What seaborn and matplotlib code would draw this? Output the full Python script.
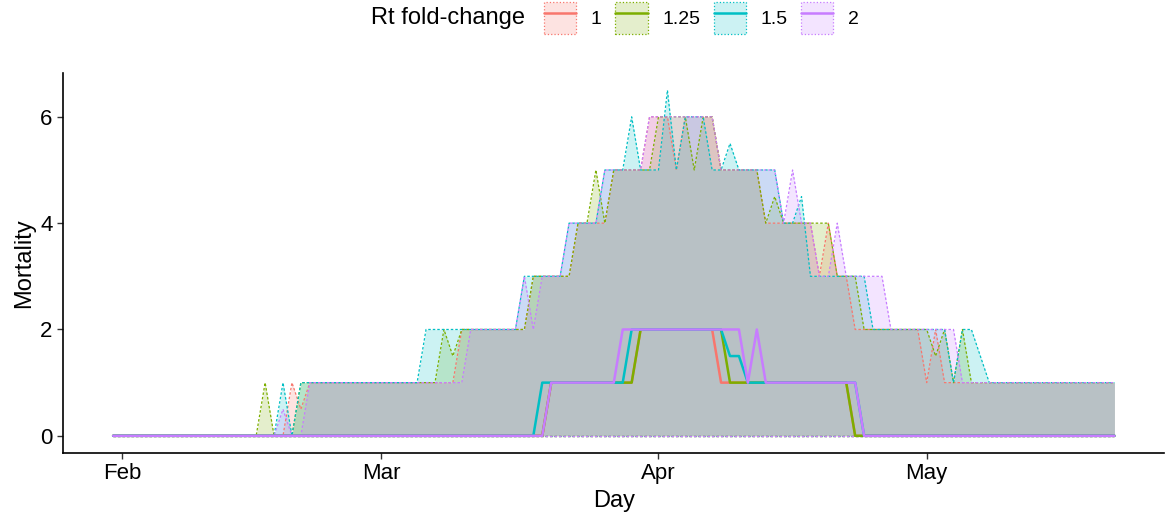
import numpy as np
import pandas as pd
import matplotlib
matplotlib.use("Agg")
import matplotlib.pyplot as plt
import matplotlib.dates as mdates
from matplotlib.colors import to_rgba
from matplotlib.patches import Patch
from matplotlib.lines import Line2D
import seaborn as sns

# daily series, 31 Jan - 22 May 2020
days = pd.date_range("2020-01-31", "2020-05-22", freq="D")
rt_levels = ["1", "1.25", "1.5", "2"]
colors = ["#F8766D", "#7CAE00", "#00BFC4", "#C77CFF"]

# upper bound of the ribbon (lower bound is 0 for every group)
upper_1 = [0, 0, 0, 0, 0, 0, 0, 0, 0, 0,
           0, 0, 0, 0, 0, 0, 0, 0, 0, 0,
           1, 0.5, 1, 1, 1, 1, 1, 1, 1, 1,
           1, 1, 1, 1, 1, 1, 1, 1, 1, 2,
           2, 2, 2, 2, 2, 2, 2, 3, 3, 3,
           3, 3, 4, 4, 4, 4, 5, 5, 5, 5,
           6, 6, 6, 5, 6, 6, 6, 6, 5, 5,
           5, 5, 5, 4, 4, 4, 4, 4, 4, 3,
           4, 3, 3, 2, 2, 2, 2, 2, 2, 2,
           2, 1, 2, 1, 1, 1, 1, 1, 1, 1,
           1, 1, 1, 1, 1, 1, 1, 1, 1, 1,
           1, 1, 1]
upper_125 = [0, 0, 0, 0, 0, 0, 0, 0, 0, 0,
             0, 0, 0, 0, 0, 0, 0, 1, 0, 0,
             0, 1, 1, 1, 1, 1, 1, 1, 1, 1,
             1, 1, 1, 1, 1, 1, 1, 2, 1.5, 2,
             2, 2, 2, 2, 2, 2, 2, 3, 3, 3,
             3, 3, 4, 4, 5, 4, 5, 5, 5, 5,
             5, 6, 6, 6, 6, 5, 6, 6, 5, 5,
             5, 5, 5, 4, 4.5, 4, 4, 4, 4, 4,
             4, 3, 3, 3, 2, 2, 2, 2, 2, 2,
             2, 2, 1.5, 2, 1, 2, 1, 1, 1, 1,
             1, 1, 1, 1, 1, 1, 1, 1, 1, 1,
             1, 1, 1]
upper_15 = [0, 0, 0, 0, 0, 0, 0, 0, 0, 0,
            0, 0, 0, 0, 0, 0, 0, 0, 0, 1,
            0, 1, 1, 1, 1, 1, 1, 1, 1, 1,
            1, 1, 1, 1, 1, 2, 2, 2, 2, 2,
            2, 2, 2, 2, 2, 2, 3, 3, 3, 3,
            3, 4, 4, 4, 4, 5, 5, 5, 6, 5,
            5, 5, 6.5, 5, 6, 6, 6, 5, 5, 5.5,
            5, 5, 5, 5, 5, 4, 4, 4.5, 3, 3,
            3, 3, 3, 3, 3, 2, 2, 2, 2, 2,
            2, 2, 2, 2, 1, 2, 2, 1.5, 1, 1,
            1, 1, 1, 1, 1, 1, 1, 1, 1, 1,
            1, 1, 1]
upper_2 = [0, 0, 0, 0, 0, 0, 0, 0, 0, 0,
           0, 0, 0, 0, 0, 0, 0, 0, 0, 0.5,
           0, 0, 1, 1, 1, 1, 1, 1, 1, 1,
           1, 1, 1, 1, 1, 1, 1, 1, 1, 1,
           2, 2, 2, 2, 2, 2, 3, 2, 3, 3,
           3, 4, 4, 4, 4, 5, 5, 5, 5, 5,
           6, 6, 6, 6, 6, 6, 6, 6, 5, 5,
           5, 5, 5, 5, 5, 4, 5, 4, 4, 3,
           3, 4, 3, 3, 3, 3, 3, 2, 2, 2,
           2, 2, 2, 2, 2, 1, 1, 1, 1, 1,
           1, 1, 1, 1, 1, 1, 1, 1, 1, 1,
           1, 1, 1]

# median line
median_1 = [0, 0, 0, 0, 0, 0, 0, 0, 0, 0,
            0, 0, 0, 0, 0, 0, 0, 0, 0, 0,
            0, 0, 0, 0, 0, 0, 0, 0, 0, 0,
            0, 0, 0, 0, 0, 0, 0, 0, 0, 0,
            0, 0, 0, 0, 0, 0, 0, 0, 0, 1,
            1, 1, 1, 1, 1, 1, 1, 1, 1, 2,
            2, 2, 2, 2, 2, 2, 2, 2, 1, 1,
            1, 1, 1, 1, 1, 1, 1, 1, 1, 1,
            1, 1, 1, 0, 0, 0, 0, 0, 0, 0,
            0, 0, 0, 0, 0, 0, 0, 0, 0, 0,
            0, 0, 0, 0, 0, 0, 0, 0, 0, 0,
            0, 0, 0]
median_125 = [0, 0, 0, 0, 0, 0, 0, 0, 0, 0,
              0, 0, 0, 0, 0, 0, 0, 0, 0, 0,
              0, 0, 0, 0, 0, 0, 0, 0, 0, 0,
              0, 0, 0, 0, 0, 0, 0, 0, 0, 0,
              0, 0, 0, 0, 0, 0, 0, 0, 0, 1,
              1, 1, 1, 1, 1, 1, 1, 1, 1, 2,
              2, 2, 2, 2, 2, 2, 2, 2, 2, 1,
              1, 1, 1, 1, 1, 1, 1, 1, 1, 1,
              1, 1, 1, 0, 0, 0, 0, 0, 0, 0,
              0, 0, 0, 0, 0, 0, 0, 0, 0, 0,
              0, 0, 0, 0, 0, 0, 0, 0, 0, 0,
              0, 0, 0]
median_15 = [0, 0, 0, 0, 0, 0, 0, 0, 0, 0,
             0, 0, 0, 0, 0, 0, 0, 0, 0, 0,
             0, 0, 0, 0, 0, 0, 0, 0, 0, 0,
             0, 0, 0, 0, 0, 0, 0, 0, 0, 0,
             0, 0, 0, 0, 0, 0, 0, 0, 1, 1,
             1, 1, 1, 1, 1, 1, 1, 1, 2, 2,
             2, 2, 2, 2, 2, 2, 2, 2, 2, 1.5,
             1.5, 1, 1, 1, 1, 1, 1, 1, 1, 1,
             1, 1, 1, 1, 0, 0, 0, 0, 0, 0,
             0, 0, 0, 0, 0, 0, 0, 0, 0, 0,
             0, 0, 0, 0, 0, 0, 0, 0, 0, 0,
             0, 0, 0]
median_2 = [0, 0, 0, 0, 0, 0, 0, 0, 0, 0,
            0, 0, 0, 0, 0, 0, 0, 0, 0, 0,
            0, 0, 0, 0, 0, 0, 0, 0, 0, 0,
            0, 0, 0, 0, 0, 0, 0, 0, 0, 0,
            0, 0, 0, 0, 0, 0, 0, 0, 0, 1,
            1, 1, 1, 1, 1, 1, 1, 2, 2, 2,
            2, 2, 2, 2, 2, 2, 2, 2, 2, 2,
            2, 1, 2, 1, 1, 1, 1, 1, 1, 1,
            1, 1, 1, 1, 0, 0, 0, 0, 0, 0,
            0, 0, 0, 0, 0, 0, 0, 0, 0, 0,
            0, 0, 0, 0, 0, 0, 0, 0, 0, 0,
            0, 0, 0]

uppers = [upper_1, upper_125, upper_15, upper_2]
medians = [median_1, median_125, median_15, median_2]

frames = []
for lvl, up, med in zip(rt_levels, uppers, medians):
    frames.append(pd.DataFrame({"Day": days, "Rt": lvl, "upper": up, "median": med}))
df = pd.concat(frames, ignore_index=True)

sns.set_style("ticks")
plt.rcParams["font.family"] = ["Liberation Sans", "DejaVu Sans"]
plt.rcParams["text.color"] = "black"
plt.rcParams["axes.labelcolor"] = "black"

fig = plt.figure(figsize=(11.68, 5.25), dpi=100)
ax = fig.add_axes([0.054, 0.137, 0.943, 0.724])

dash = (0, (2.0, 1.6))
for lvl, col in zip(rt_levels, colors):
    sub = df[df["Rt"] == lvl]
    ax.fill_between(sub["Day"], 0, sub["upper"], color=col, alpha=0.2, lw=0)
    ax.plot(sub["Day"], sub["upper"], color=col, lw=0.9, ls=dash)
    ax.plot(sub["Day"], np.zeros(len(sub)), color=col, lw=0.9, ls=dash)

sns.lineplot(data=df, x="Day", y="median", hue="Rt", hue_order=rt_levels,
             palette=colors, lw=1.8, legend=False, ax=ax)

ax.set_xlim(days[0] - pd.Timedelta(days=5.6), days[-1] + pd.Timedelta(days=5.6))
ax.set_ylim(-0.325, 6.825)
ax.set_yticks([0, 2, 4, 6])
ax.xaxis.set_major_locator(mdates.MonthLocator())
ax.xaxis.set_major_formatter(mdates.DateFormatter("%b"))
ax.set_xlabel("Day", fontsize=17)
ax.set_ylabel("Mortality", fontsize=17)
ax.tick_params(labelsize=16, length=4, width=1, color="#333333", labelcolor="black")
for s in ["left", "bottom"]:
    ax.spines[s].set_linewidth(1.2)
    ax.spines[s].set_color("black")
sns.despine(ax=ax)

# legend across the top, title on the left
fig.text(0.318, 0.966, "Rt fold-change", fontsize=17, va="center", ha="left")
handles = []
for col in colors:
    box = Patch(facecolor=to_rgba(col, 0.2), edgecolor=col, linestyle=":", linewidth=0.9)
    handles.append((box, Line2D([], [], color=col, lw=1.8)))
fig.legend(handles, rt_levels, loc="center left", bbox_to_anchor=(0.466, 0.966),
           ncol=4, frameon=False, fontsize=14, handlelength=1.65, handleheight=2.1,
           handletextpad=0.75, columnspacing=0.7, borderpad=0, borderaxespad=0)

fig.savefig("out.png", dpi=100)
